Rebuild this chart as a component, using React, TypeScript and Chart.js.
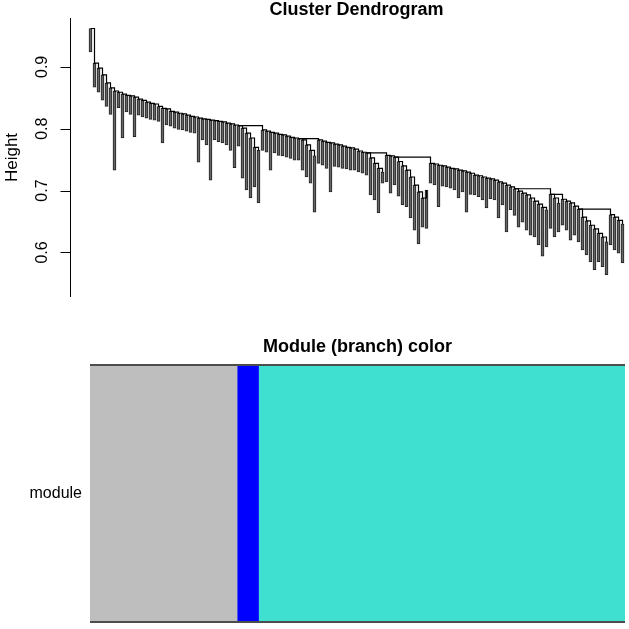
import React, { useEffect, useRef } from "react";
import { Chart, registerables } from "chart.js";

Chart.register(...registerables);

// Height at which each leaf group joins the tree (left to right)
const branchTops = [
  0.962, 0.906, 0.898, 0.887, 0.874, 0.866, 0.861, 0.859, 0.856, 0.854,
  0.853, 0.851, 0.848, 0.846, 0.843, 0.841, 0.840, 0.836, 0.833, 0.832,
  0.828, 0.827, 0.825, 0.824, 0.822, 0.820, 0.819, 0.817, 0.816, 0.815,
  0.814, 0.813, 0.812, 0.811, 0.809, 0.808, 0.806, 0.805, 0.801, 0.793,
  0.785, 0.770, 0.765, 0.798, 0.796, 0.794, 0.793, 0.791, 0.790, 0.788,
  0.786, 0.785, 0.784, 0.782, 0.774, 0.765, 0.756, 0.782, 0.780, 0.778,
  0.777, 0.775, 0.774, 0.772, 0.770, 0.769, 0.767, 0.764, 0.762, 0.761,
  0.753, 0.744, 0.736, 0.730, 0.757, 0.756, 0.754, 0.747, 0.740, 0.733,
  0.722, 0.709, 0.698, 0.688, 0.701, 0.744, 0.743, 0.741, 0.740, 0.738,
  0.736, 0.735, 0.733, 0.732, 0.730, 0.728, 0.725, 0.724, 0.722, 0.720,
  0.719, 0.717, 0.714, 0.712, 0.709, 0.706, 0.703, 0.699, 0.696, 0.693,
  0.688, 0.683, 0.678, 0.673, 0.669, 0.694, 0.688, 0.680, 0.686, 0.683,
  0.680, 0.675, 0.670, 0.657, 0.651, 0.644, 0.638, 0.631, 0.625, 0.617,
  0.661, 0.657, 0.652, 0.646,
];

// Lowest height reached by the leaves of each group
const leafBottoms = [
  0.924, 0.867, 0.859, 0.846, 0.836, 0.823, 0.733, 0.834, 0.785, 0.827,
  0.823, 0.787, 0.822, 0.819, 0.817, 0.815, 0.814, 0.812, 0.777, 0.806,
  0.804, 0.801, 0.799, 0.798, 0.796, 0.794, 0.793, 0.746, 0.782, 0.774,
  0.717, 0.782, 0.779, 0.777, 0.774, 0.765, 0.737, 0.772, 0.720, 0.701,
  0.688, 0.706, 0.680, 0.765, 0.762, 0.733, 0.761, 0.757, 0.756, 0.754,
  0.752, 0.749, 0.749, 0.733, 0.722, 0.712, 0.665, 0.744, 0.741, 0.736,
  0.698, 0.739, 0.738, 0.736, 0.735, 0.733, 0.733, 0.730, 0.728, 0.725,
  0.693, 0.685, 0.664, 0.712, 0.714, 0.696, 0.709, 0.691, 0.677, 0.674,
  0.656, 0.636, 0.614, 0.641, 0.639, 0.712, 0.709, 0.674, 0.707, 0.706,
  0.704, 0.701, 0.688, 0.698, 0.665, 0.694, 0.693, 0.690, 0.685, 0.672,
  0.687, 0.685, 0.656, 0.677, 0.633, 0.669, 0.660, 0.641, 0.649, 0.636,
  0.628, 0.625, 0.612, 0.594, 0.609, 0.639, 0.625, 0.633, 0.644, 0.636,
  0.620, 0.628, 0.617, 0.604, 0.596, 0.585, 0.572, 0.585, 0.577, 0.564,
  0.612, 0.604, 0.599, 0.583,
];

// Sub-clusters (first and last group index) that hang below the main trunk
const cascadeRanges = [
  [38, 42],
  [53, 56],
  [70, 73],
  [77, 84],
  [107, 114],
  [116, 117],
  [123, 129],
];

const heightTicks = [0.6, 0.7, 0.8, 0.9];

const moduleNames = ["grey", "blue", "turquoise"];
const moduleColors = ["#BEBEBE", "#0000FF", "#40E0D0"];
const moduleSizes = [55, 8, 137];
const rowLabels = ["module"];

const FONT = "'Liberation Sans', Arial, Helvetica, sans-serif";

export default function App() {
  const topRef = useRef<HTMLCanvasElement | null>(null);
  const botRef = useRef<HTMLCanvasElement | null>(null);

  useEffect(() => {
    const n = branchTops.length;
    const idx = branchTops.map((_, i) => i);
    const inCascade = (i: number) =>
      cascadeRanges.some(([a, b]) => i >= a && i <= b);

    const trunkPoints = idx
      .filter((i) => !inCascade(i))
      .map((i) => ({ x: i, y: branchTops[i] }));

    const lineStyle = {
      type: "line",
      stepped: "before",
      borderColor: "#000",
      borderWidth: 1.2,
      pointRadius: 0,
      fill: false,
      order: 0,
    };

    const cascadeSets = cascadeRanges.map(([a, b]) => ({
      ...lineStyle,
      data: idx
        .filter((i) => i >= a - 1 && i <= b)
        .map((i) => ({ x: i, y: branchTops[i] })),
    }));

    const dendroPlugin = {
      id: "dendroText",
      afterDraw(chart: any) {
        const ctx = chart.ctx;
        const ys = chart.scales.y;
        const xs = chart.scales.x;
        const area = chart.chartArea;
        ctx.save();
        ctx.strokeStyle = "#000";
        ctx.lineWidth = 1;
        const ax = Math.round(area.left) + 0.5;
        ctx.beginPath();
        ctx.moveTo(ax, area.top);
        ctx.lineTo(ax, area.bottom);
        heightTicks.forEach((v) => {
          const y = Math.round(ys.getPixelForValue(v)) + 0.5;
          ctx.moveTo(ax - 10, y);
          ctx.lineTo(ax, y);
        });
        ctx.stroke();
        ctx.fillStyle = "#000";
        ctx.textAlign = "center";
        ctx.textBaseline = "middle";
        ctx.font = `16px ${FONT}`;
        heightTicks.forEach((v) => {
          const y = ys.getPixelForValue(v);
          ctx.save();
          ctx.translate(area.left - 27, y);
          ctx.rotate(-Math.PI / 2);
          ctx.fillText(v.toFixed(1), 0, 0);
          ctx.restore();
        });
        const cx = (xs.getPixelForValue(0) + xs.getPixelForValue(n - 1)) / 2;
        ctx.font = `bold 18px ${FONT}`;
        ctx.fillText("Cluster Dendrogram", cx, area.top - 8);
        ctx.restore();
      },
    };

    const top = new Chart(topRef.current as HTMLCanvasElement, {
      type: "bar",
      data: {
        datasets: [
          { ...lineStyle, data: trunkPoints } as any,
          ...(cascadeSets as any[]),
          {
            type: "bar",
            data: idx.map((i) => ({ x: i, y: [leafBottoms[i], branchTops[i]] })),
            backgroundColor: "#666666",
            borderColor: "#222222",
            borderWidth: 1,
            borderSkipped: false,
            barThickness: 3,
            order: 1,
          } as any,
        ],
      },
      options: {
        responsive: false,
        animation: false,
        layout: { padding: { top: 18, right: 2, bottom: 13, left: 0 } },
        plugins: {
          legend: { display: false },
          tooltip: { enabled: false },
          title: { display: false },
        },
        scales: {
          x: {
            type: "linear",
            min: -5.125,
            max: 134.125,
            bounds: "data",
            offset: false,
            display: false,
          },
          y: {
            type: "linear",
            min: 0.528,
            max: 0.979,
            bounds: "data",
            afterFit: (s: any) => {
              s.width = 70;
            },
            border: { display: false },
            grid: { display: false, drawTicks: false },
            ticks: { display: false },
            title: {
              display: true,
              text: "Height",
              color: "#000",
              font: { size: 17, family: FONT },
              padding: { top: 2, bottom: 0 },
            },
          },
        },
      } as any,
      plugins: [dendroPlugin],
    });

    const total = moduleSizes.reduce((a, b) => a + b, 0);

    const panelPlugin = {
      id: "panelDeco",
      afterDraw(chart: any) {
        const ctx = chart.ctx;
        const a = chart.chartArea;
        const ys = chart.scales.y;
        ctx.save();
        ctx.strokeStyle = "#4d4d4d";
        ctx.lineWidth = 2;
        ctx.beginPath();
        ctx.moveTo(a.left, a.top);
        ctx.lineTo(a.right, a.top);
        ctx.moveTo(a.left, a.bottom);
        ctx.lineTo(a.right, a.bottom);
        ctx.stroke();
        ctx.fillStyle = "#000";
        ctx.textBaseline = "middle";
        ctx.textAlign = "center";
        ctx.font = `bold 18px ${FONT}`;
        ctx.fillText("Module (branch) color", (a.left + a.right) / 2, a.top - 18);
        ctx.textAlign = "right";
        ctx.font = `16px ${FONT}`;
        rowLabels.forEach((lab, k) => {
          ctx.fillText(lab, a.left - 8, ys.getPixelForValue(k));
        });
        ctx.restore();
      },
    };

    const bot = new Chart(botRef.current as HTMLCanvasElement, {
      type: "bar",
      data: {
        labels: rowLabels,
        datasets: moduleNames.map((name, k) => ({
          label: name,
          data: [moduleSizes[k]],
          backgroundColor: moduleColors[k],
          borderWidth: 0,
          barPercentage: 1,
          categoryPercentage: 1,
        })),
      },
      options: {
        indexAxis: "y",
        responsive: false,
        animation: false,
        layout: { padding: { top: 45, right: 4, bottom: 7, left: 0 } },
        plugins: {
          legend: { display: false },
          tooltip: { enabled: false },
        },
        scales: {
          x: {
            stacked: true,
            min: 0,
            max: total,
            bounds: "data",
            display: false,
          },
          y: {
            stacked: true,
            afterFit: (s: any) => {
              s.width = 90;
            },
            grid: { display: false, drawTicks: false },
            border: { display: false },
            ticks: { display: false },
          },
        },
      } as any,
      plugins: [panelPlugin],
    });

    return () => {
      top.destroy();
      bot.destroy();
    };
  }, []);

  return (
    <div
      style={{
        position: "absolute",
        left: 0,
        top: 0,
        width: 629,
        height: 629,
        background: "#fff",
      }}
    >
      <canvas
        ref={topRef}
        width={629}
        height={310}
        style={{ position: "absolute", left: 0, top: 0, width: 629, height: 310 }}
      />
      <canvas
        ref={botRef}
        width={629}
        height={309}
        style={{ position: "absolute", left: 0, top: 320, width: 629, height: 309 }}
      />
    </div>
  );
}
